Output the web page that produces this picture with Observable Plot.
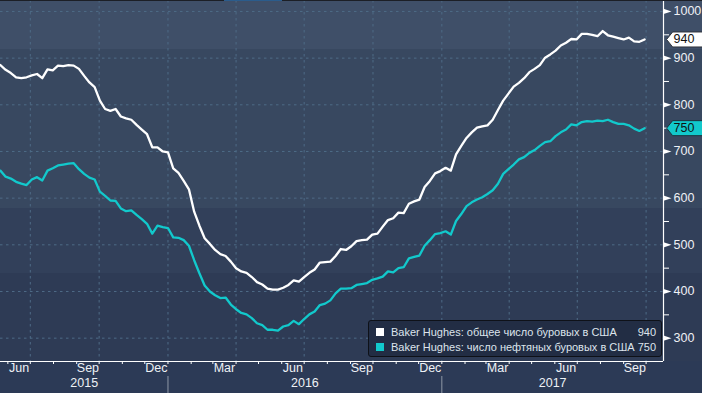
<!DOCTYPE html>
<html>
<head>
<meta charset="utf-8">
<script src="https://cdn.jsdelivr.net/npm/d3@7"></script>
<script src="https://cdn.jsdelivr.net/npm/@observablehq/plot@0.6"></script>
<style>
  html, body { margin: 0; padding: 0; background: #2c3a56; }
  #wrap {
    position: relative; width: 702px; height: 393px; overflow: hidden;
    background: linear-gradient(to bottom,
      #3f4f68 0px, #3f4f68 49px,
      #384860 49px, #384860 208px,
      #32405a 208px, #32405a 273px,
      #2e3b55 273px, #2e3b55 361px,
      #2c3a56 361px);
    font-family: "Liberation Sans", Arial, sans-serif;
  }
  #topstrip { position: absolute; left: 0; top: 0; width: 702px; height: 1px; background: #1c1f26; }
  #topstrip2 { position: absolute; left: 224px; top: 0; width: 58px; height: 1px; background: #2b5c8c; }
  #legend {
    position: absolute; left: 368px; top: 320px; width: 292px; height: 35px;
    background: #222d44; border: 1px solid #0e1118; border-radius: 3px;
    color: #dde4ec; font-size: 11px; box-sizing: content-box;
  }
  .row { position: absolute; left: 7px; right: 5px; height: 14px; line-height: 14px; display: flex; align-items: center; }
  .sw { width: 8px; height: 8px; margin-right: 7px; flex: none; }
  .lab { flex: 1; white-space: nowrap; }
  .val { flex: none; text-align: right; }
</style>
</head>
<body>
<div id="wrap">
  <div id="chart"></div>
  <div id="topstrip"></div><div id="topstrip2"></div>
  <div id="legend"></div>
</div>
<script>
// ---- data (weekly Baker Hughes counts) ----
const firstWeek = "2015-05-15";
const lastWeek = "2017-09-29";
const totalRigs = [
  888,885,875,868,859,857,859,863,866,857,876,874,884,883,885,884,877,862,848,838,
  809,791,787,791,775,771,768,757,747,737,709,709,700,698,
  664,654,637,619,571,541,514,502,489,480,476,464,450,443,440,431,420,415,406,404,404,
  408,414,424,421,431,440,447,462,463,464,476,491,489,497,508,510,511,522,524,539,553,557,
  569,568,588,593,597,624,637,653,658,
  665,659,694,712,729,741,751,754,756,768,789,809,824,839,847,857,870,877,885,901,908,
  916,927,933,941,940,952,952,950,947,958,949,946,943,940,944,936,935,940
];
const oilRigs = [
  660,659,646,642,635,631,628,640,645,638,659,664,670,672,674,675,662,652,644,640,
  614,605,595,594,578,572,574,564,555,545,524,541,538,536,
  516,515,510,498,467,439,413,400,392,386,387,372,362,354,351,343,332,328,318,318,316,
  325,328,337,330,341,351,357,371,374,381,396,406,406,407,414,416,418,425,428,432,443,441,
  450,452,471,474,477,498,510,523,525,
  529,522,551,566,583,591,597,602,609,617,631,652,662,672,683,688,697,703,712,720,722,
  733,741,747,758,756,763,765,764,766,765,768,763,759,759,756,749,744,750
];
const seriesNames = [
  "Baker Hughes: общее число буровых в США",
  "Baker Hughes: число нефтяных буровых в США"
];
const seriesColors = ["#ffffff", "#12c9cc"];
const monthLabels = ["Jun","Sep","Dec","Mar","Jun","Sep","Dec","Mar","Jun","Sep"];
const labelMonths = ["2015-06","2015-09","2015-12","2016-03","2016-06","2016-09","2016-12","2017-03","2017-06","2017-09"];
const yearLabels = ["2015","2016","2017"];
const yTicks = [300,400,500,600,700,800,900,1000];
const yMinorTicks = [350,450,550,650,750,850,950];
const xDomain = [new Date("2015-05-22T04:00Z"), new Date("2017-10-24T06:00Z")];
const yDomain = [250, 1023.5];

// ---- build table ----
const dates = d3.utcFriday.range(new Date(firstWeek + "T00:00Z"), d3.utcDay.offset(new Date(lastWeek + "T00:00Z"), 1));
const rows = dates.map((date, i) => ({date, total: totalRigs[i], oil: oilRigs[i]}));
const last = rows[rows.length - 1];

const monthStarts = d3.utcMonth.range(xDomain[0], xDomain[1]);
const quarterStarts = monthStarts.filter(d => d.getUTCMonth() % 3 === 0);
const yearStarts = monthStarts.filter(d => d.getUTCMonth() === 0);
const monthLabelData = labelMonths.map((m, i) => {
  const s = new Date(m + "-01T00:00Z");
  const e = d3.utcMonth.offset(s, 1);
  return {date: new Date((+s + +e) / 2), label: monthLabels[i]};
});
const yearBounds = [xDomain[0], ...yearStarts, xDomain[1]];
const yearLabelData = yearLabels.map((y, i) => ({date: new Date((+yearBounds[i] + +yearBounds[i + 1]) / 2), label: y}));

const rightTriangle = {draw(ctx) { ctx.moveTo(0, -2.6); ctx.lineTo(8, 0); ctx.lineTo(0, 2.6); ctx.closePath(); }};
const tagShape = {draw(ctx) { ctx.moveTo(0, 0); ctx.lineTo(6, -7.5); ctx.lineTo(40, -7.5); ctx.lineTo(40, 7.5); ctx.lineTo(6, 7.5); ctx.closePath(); }};

const gridColor = "#4e6b86";
const font = "'Liberation Sans', Arial, sans-serif";

const chart = Plot.plot({
  width: 702,
  height: 393,
  marginLeft: 0,
  marginRight: 39,
  marginTop: 0,
  marginBottom: 32,
  style: {background: "transparent", color: "#eef1f5", fontFamily: font, overflow: "visible"},
  x: {type: "utc", domain: xDomain, axis: null},
  y: {domain: yDomain, axis: null},
  marks: [
    Plot.gridY({ticks: yTicks, stroke: gridColor, strokeOpacity: 1, strokeDasharray: "2.5,3.5"}),
    Plot.gridX({ticks: quarterStarts, stroke: gridColor, strokeOpacity: 1, strokeDasharray: "2.5,3.5"}),
    Plot.line(rows, {x: "date", y: "total", stroke: seriesColors[0], strokeWidth: 2.3, clip: true}),
    Plot.line(rows, {x: "date", y: "oil", stroke: seriesColors[1], strokeWidth: 2.3, clip: true}),
    Plot.ruleY([yDomain[0]], {stroke: "#ffffff", strokeWidth: 1.2}),
    Plot.ruleX([xDomain[1]], {stroke: "#ffffff", strokeWidth: 1.2}),
    Plot.axisX({ticks: monthStarts, tickSize: 3, tickFormat: () => "", stroke: "#ffffff", label: null}),
    Plot.axisX({ticks: yearStarts, tickSize: 17, dy: 15, tickFormat: () => "", stroke: "#8f98a6", label: null}),
    Plot.text(monthLabelData, {x: "date", text: "label", frameAnchor: "bottom", dy: 10.5, fontSize: 12.5, fill: "#eef1f5"}),
    Plot.text(yearLabelData, {x: "date", text: "label", frameAnchor: "bottom", dy: 25, fontSize: 12.5, fill: "#eef1f5"}),
    Plot.axisY({anchor: "right", ticks: yMinorTicks, tickSize: 5, tickFormat: () => "", stroke: "#ffffff", label: null}),
    Plot.dot(yTicks, {y: d => d, frameAnchor: "right", symbol: rightTriangle, fill: "#ffffff", stroke: "none", r: 3}),
    Plot.text(yTicks, {y: d => d, text: d => String(d), frameAnchor: "right", dx: 10, textAnchor: "start", fontSize: 12.5, fill: "#eef1f5"}),
    Plot.dot([last], {x: "date", y: "total", symbol: tagShape, fill: "#ffffff", stroke: "#30343c", strokeWidth: 1, r: 5, dx: 22}),
    Plot.text([last], {x: "date", y: "total", text: d => String(d.total), dx: 29, textAnchor: "start", fontSize: 12.5, fill: "#111111"}),
    Plot.dot([last], {x: "date", y: "oil", symbol: tagShape, fill: seriesColors[1], stroke: "#1b3540", strokeWidth: 1, r: 5, dx: 22}),
    Plot.text([last], {x: "date", y: "oil", text: d => String(d.oil), dx: 29, textAnchor: "start", fontSize: 12.5, fill: "#111111"})
  ]
});
document.getElementById("chart").appendChild(chart);

// legend
const legend = document.getElementById("legend");
const lastVals = [totalRigs[totalRigs.length - 1], oilRigs[oilRigs.length - 1]];
seriesNames.forEach((name, i) => {
  const row = document.createElement("div");
  row.className = "row";
  row.style.top = (4 + i * 15) + "px";
  row.innerHTML = `<span class="sw" style="background:${seriesColors[i]}"></span><span class="lab">${name}</span><span class="val">${lastVals[i]}</span>`;
  legend.appendChild(row);
});
</script>
</body>
</html>
